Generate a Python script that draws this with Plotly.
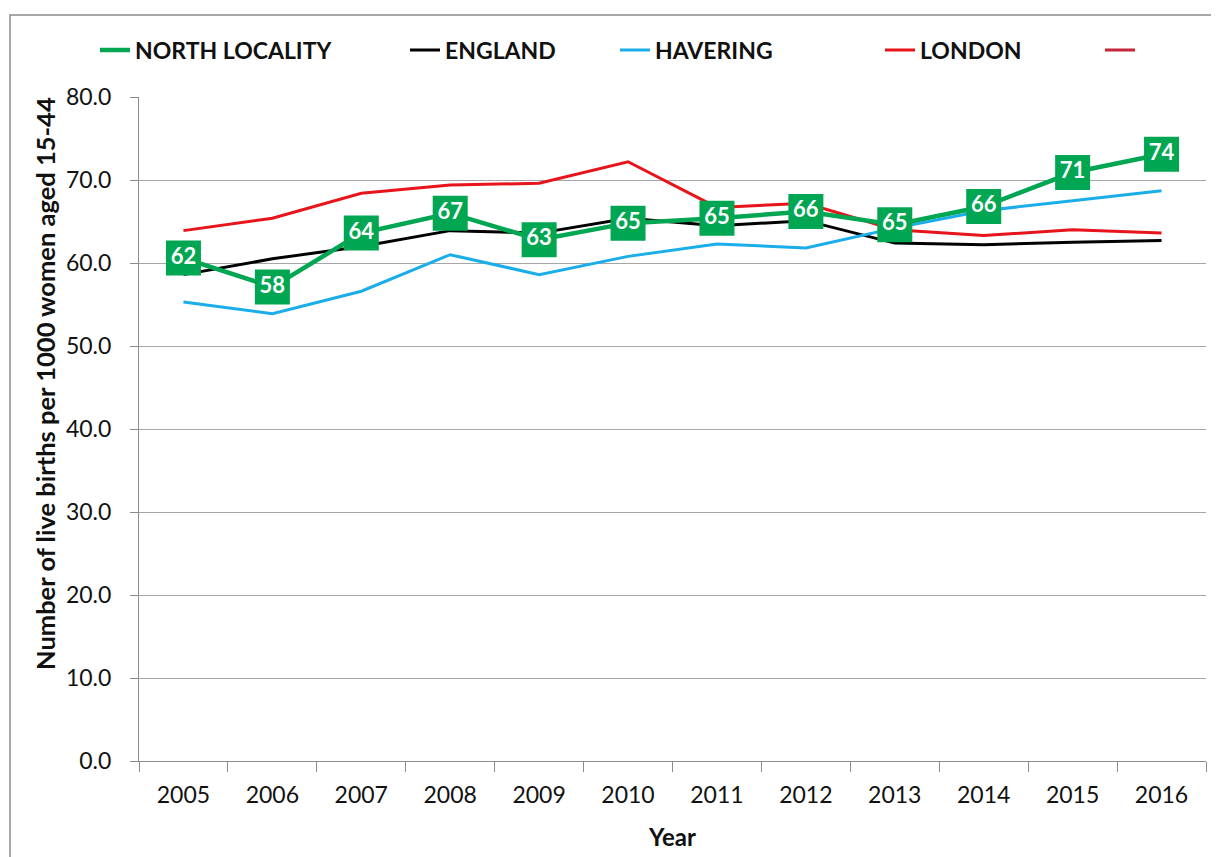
import plotly.graph_objects as go

years = ["2005", "2006", "2007", "2008", "2009", "2010", "2011", "2012", "2013", "2014", "2015", "2016"]
north_locality = [60.6, 57.1, 63.6, 66.0, 62.8, 64.8, 65.4, 66.2, 64.6, 66.8, 70.9, 73.1]
north_labels = ["62", "58", "64", "67", "63", "65", "65", "66", "65", "66", "71", "74"]
england = [58.6, 60.5, 62.0, 63.9, 63.6, 65.4, 64.5, 65.1, 62.4, 62.2, 62.5, 62.7]
havering = [55.3, 53.9, 56.6, 61.0, 58.6, 60.8, 62.3, 61.8, 64.2, 66.3, 67.5, 68.7]
london = [63.9, 65.4, 68.4, 69.4, 69.6, 72.2, 66.7, 67.2, 64.0, 63.3, 64.0, 63.6]
extra_series = [None] * 12
y_ticks = [0, 10, 20, 30, 40, 50, 60, 70, 80]
y_tick_labels = ["0.0", "10.0", "20.0", "30.0", "40.0", "50.0", "60.0", "70.0", "80.0"]
y_title = "Number of live births per 1000 women aged 15-44"

GREEN = "#00A651"
BLACK = "#000000"
BLUE = "#1AADE9"
RED = "#E8141B"
DARKRED = "#C42638"
TXT = "#111111"

# page body has an 8px offset; layout is expressed in figure pixels
ML, MT = 131, 89
PW, PH = 1067, 664


def px_x(sx):
    return (sx - 8 - ML) / PW


def px_y(sy):
    return (MT + PH - (sy - 8)) / PH


fig = go.Figure()

fig.add_trace(go.Scatter(x=years, y=england, mode="lines", name="ENGLAND",
                         line=dict(color=BLACK, width=3), legend="legend2"))
fig.add_trace(go.Scatter(x=years, y=havering, mode="lines", name="HAVERING",
                         line=dict(color=BLUE, width=3), legend="legend3"))
fig.add_trace(go.Scatter(x=years, y=london, mode="lines", name="LONDON",
                         line=dict(color=RED, width=3), legend="legend4"))
fig.add_trace(go.Scatter(x=years, y=extra_series, mode="lines", name=" ",
                         line=dict(color=DARKRED, width=3), legend="legend5"))
# legend-only entry for North Locality (line sample without the square marker)
fig.add_trace(go.Scatter(x=years, y=extra_series, mode="lines", name="NORTH LOCALITY",
                         line=dict(color=GREEN, width=4.5), legend="legend"))
fig.add_trace(go.Scatter(x=years, y=north_locality, mode="lines+markers+text", name="NORTH LOCALITY",
                         showlegend=False,
                         line=dict(color=GREEN, width=4.5),
                         marker=dict(symbol="square", size=35, color=GREEN, line=dict(width=0)),
                         text=north_labels, textposition="middle center",
                         textfont=dict(family="Lato, sans-serif", size=22, color="white", weight="bold")))

legfont = dict(family="Lato, sans-serif", size=23, color=TXT, weight="bold")


def leg(line_start_sx):
    return dict(orientation="h", x=px_x(line_start_sx - 5), xanchor="left", y=px_y(50),
                yanchor="middle", font=legfont, bgcolor="rgba(0,0,0,0)", borderwidth=0)


fig.update_layout(
    width=1219, height=857,
    margin=dict(l=ML, r=1219 - ML - PW, t=MT, b=857 - MT - PH, autoexpand=False),
    paper_bgcolor="white", plot_bgcolor="white",
    font=dict(family="Lato, sans-serif", color=TXT),
    showlegend=True,
    legend=leg(100), legend2=leg(410), legend3=leg(620), legend4=leg(885), legend5=leg(1105),
    xaxis=dict(type="category", range=[-0.5, 11.5], tickson="boundaries", ticks="outside", ticklen=10,
               tickcolor="#8C8C8C",
               showline=True, linecolor="#8C8C8C", linewidth=1, showgrid=False,
               tickfont=dict(size=23, color=TXT), ticklabelstandoff=13,
               title=dict(text="Year", font=dict(size=24, weight="bold", color=TXT), standoff=22)),
    yaxis=dict(range=[0, 80], tickvals=y_ticks, ticktext=y_tick_labels, ticks="outside", ticklen=8,
               tickcolor="#8C8C8C", showline=True, linecolor="#8C8C8C", linewidth=1,
               showgrid=True, gridcolor="#A6A6A6", gridwidth=1, zeroline=False,
               tickfont=dict(size=23, color=TXT), ticklabelstandoff=14),
    annotations=[dict(text=y_title, xref="paper", yref="paper", x=px_x(45), y=px_y(384),
                      xanchor="center", yanchor="middle", textangle=-90, showarrow=False,
                      font=dict(size=25.5, weight="bold", color=TXT))],
    shapes=[dict(type="rect", xref="paper", yref="paper",
                 x0=px_x(10), x1=px_x(1240),
                 y0=px_y(900), y1=px_y(15),
                 line=dict(color="#8C8C8C", width=1.5), fillcolor="rgba(0,0,0,0)", layer="below")],
)

fig.write_html("out.html")
